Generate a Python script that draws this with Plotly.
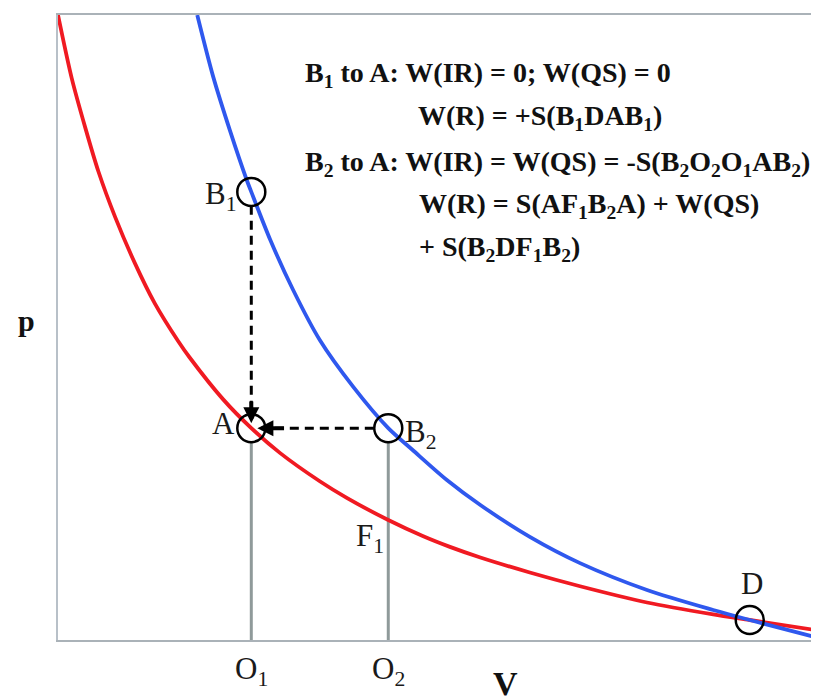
import plotly.graph_objects as go

# ---- data (V, p in arbitrary units) ----
red_V = [0.00, 0.18, 0.36, 0.53, 0.75, 1.01, 1.27, 1.58, 1.73, 2.17, 2.54, 2.92,
         3.44, 3.80, 4.34, 4.80, 5.15, 5.55, 6.20, 6.86, 7.74, 8.61, 9.09, 10.00]
red_p = [10.00, 8.99, 8.19, 7.50, 6.77, 6.03, 5.39, 4.78, 4.52, 3.85, 3.39, 2.99,
         2.54, 2.27, 1.92, 1.66, 1.49, 1.32, 1.08, 0.86, 0.60, 0.41, 0.32, 0.15]

blue_V = [1.83, 2.04, 2.26, 2.48, 2.54, 2.79, 3.09, 3.44, 3.88, 4.34, 4.66, 5.11,
          5.55, 6.20, 6.86, 7.74, 8.61, 9.09, 10.00]
blue_p = [10.00, 9.01, 8.15, 7.36, 7.17, 6.40, 5.60, 4.80, 4.05, 3.39, 3.04, 2.56,
          2.16, 1.65, 1.23, 0.80, 0.48, 0.32, 0.03]

state_names = ["B1", "A", "B2", "D"]
state_V = [2.54, 2.54, 4.34, 9.09]
state_p = [7.17, 3.39, 3.39, 0.32]

F1_V, F1_p = 4.34, 1.92
O_names = ["O<sub>1</sub>", "O<sub>2</sub>"]
O_V = [2.54, 4.34]

text_lines = [
    "B<sub>1</sub> to A: W(IR) = 0; W(QS) = 0",
    "W(R) = +S(B<sub>1</sub>DAB<sub>1</sub>)",
    "B<sub>2</sub> to A: W(IR) = W(QS) = -S(B<sub>2</sub>O<sub>2</sub>O<sub>1</sub>AB<sub>2</sub>)",
    "W(R) = S(AF<sub>1</sub>B<sub>2</sub>A) + W(QS)",
    "+ S(B<sub>2</sub>DF<sub>1</sub>B<sub>2</sub>)",
]

# ---- layout geometry (page pixels; the page body has an 8px margin) ----
PAGE_W, PAGE_H = 819, 700
OFF = 8
PL, PR, PT, PB = 58, 819, 15, 640          # plot area in page pixels
W, H = PAGE_W - OFF, PAGE_H - OFF
SERIF = "Liberation Serif, Times New Roman, serif"

def xp(px):
    return (px - PL) / (PR - PL)

def yp(py):
    return (PB - py) / (PB - PT)

fig = go.Figure()

A_V, A_p = state_V[1], state_p[1]
B1_V, B1_p = state_V[0], state_p[0]
B2_V, B2_p = state_V[2], state_p[2]

# gray verticals from A and B2 down to the axis
for v, p in [(A_V, A_p), (B2_V, B2_p)]:
    fig.add_trace(go.Scatter(x=[v, v], y=[0, p - 0.22], mode="lines",
                             line=dict(color="#8f9a9a", width=3),
                             hoverinfo="skip", showlegend=False))

# curves
fig.add_trace(go.Scatter(x=red_V, y=red_p, mode="lines", line_shape="spline",
                         line=dict(color="#f01a22", width=3.8, smoothing=0.8),
                         showlegend=False))
fig.add_trace(go.Scatter(x=blue_V, y=blue_p, mode="lines", line_shape="spline",
                         line=dict(color="#2f58ee", width=3.8, smoothing=0.8),
                         showlegend=False))

# dashed paths B1 -> A and B2 -> A
fig.add_trace(go.Scatter(x=[B1_V, A_V], y=[B1_p - 0.22, A_p + 0.2], mode="lines",
                         line=dict(color="black", width=3, dash="9px,6px"),
                         showlegend=False))
fig.add_trace(go.Scatter(x=[B2_V - 0.19, A_V + 0.2], y=[B2_p, A_p], mode="lines",
                         line=dict(color="black", width=3, dash="9px,6px"),
                         showlegend=False))

# open circles at states
fig.add_trace(go.Scatter(x=state_V, y=state_p, mode="markers",
                         marker=dict(symbol="circle-open", size=28,
                                     line=dict(color="black", width=2.5),
                                     color="black"),
                         showlegend=False))

# arrowheads at A
fig.add_annotation(x=A_V, y=A_p + 0.08, ax=A_V, ay=A_p + 0.45, xref="x", yref="y",
                   axref="x", ayref="y", showarrow=True, arrowhead=2,
                   arrowsize=0.8, arrowwidth=4, arrowcolor="black", text="")
fig.add_annotation(x=A_V + 0.08, y=A_p, ax=A_V + 0.45, ay=A_p, xref="x", yref="y",
                   axref="x", ayref="y", showarrow=True, arrowhead=2,
                   arrowsize=0.8, arrowwidth=4, arrowcolor="black", text="")

# point labels
lab_font = dict(family=SERIF, size=31, color="#1a1a1a")
fig.add_annotation(x=B1_V, y=B1_p, xref="x", yref="y", text="B<sub>1</sub>",
                   showarrow=False, xanchor="right", xshift=-12, yshift=-4, font=lab_font)
fig.add_annotation(x=A_V, y=A_p, xref="x", yref="y", text="A",
                   showarrow=False, xanchor="right", xshift=-14, yshift=5, font=lab_font)
fig.add_annotation(x=B2_V, y=B2_p, xref="x", yref="y", text="B<sub>2</sub>",
                   showarrow=False, xanchor="left", xshift=15, yshift=-6, font=lab_font)
fig.add_annotation(x=F1_V, y=F1_p, xref="x", yref="y", text="F<sub>1</sub>",
                   showarrow=False, xanchor="right", xshift=-2, yshift=-18, font=lab_font)
fig.add_annotation(x=state_V[3], y=state_p[3], xref="x", yref="y", text="D",
                   showarrow=False, xanchor="center", xshift=2, yshift=37, font=lab_font)

for name, v in zip(O_names, O_V):
    fig.add_annotation(x=v, y=yp(671), xref="x", yref="paper", text=name,
                       showarrow=False, xanchor="center", yanchor="middle", font=lab_font)

# axis titles
fig.add_annotation(x=xp(16), y=yp(320), xref="paper", yref="paper", text="<b>p</b>",
                   showarrow=False, font=dict(family=SERIF, size=30, color="#111"))
fig.add_annotation(x=xp(505), y=yp(704), xref="paper", yref="paper", text="<b>V</b>",
                   showarrow=False, font=dict(family=SERIF, size=34, color="#111"))

# text block
txt_font = dict(family=SERIF, size=28, color="#111")
text_pos = [(303, 74), (416, 118), (303, 163), (417, 205), (417, 248)]
for line, (px, py) in zip(text_lines, text_pos):
    fig.add_annotation(x=xp(px), y=yp(py), xref="paper", yref="paper",
                       text="<b>" + line + "</b>", showarrow=False,
                       xanchor="left", yanchor="middle", font=txt_font)

fig.update_layout(
    width=W, height=H,
    margin=dict(l=PL - OFF, r=0, t=PT - OFF, b=H - (PB - OFF)),
    paper_bgcolor="white", plot_bgcolor="white",
    showlegend=False,
    xaxis=dict(range=[0, 10], showgrid=False, zeroline=False, showticklabels=False,
               ticks="", showline=True, mirror=True, linecolor="#aab2b8", linewidth=1.5),
    yaxis=dict(range=[0, 10], showgrid=False, zeroline=False, showticklabels=False,
               ticks="", showline=True, mirror=False, linecolor="#b8c0c8", linewidth=1.5),
)

fig.write_html("out.html")
